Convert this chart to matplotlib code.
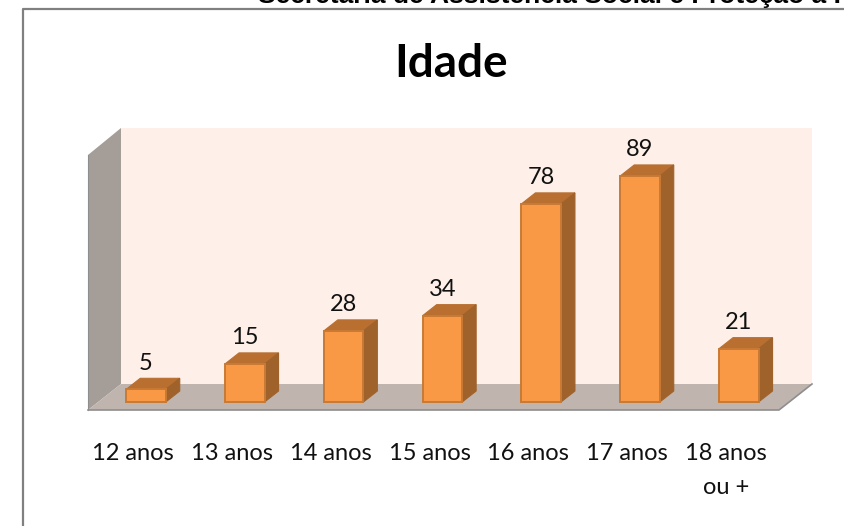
import matplotlib
matplotlib.use("Agg")
import matplotlib.pyplot as plt
from matplotlib.patches import Polygon, Rectangle

categorias = ["12 anos", "13 anos", "14 anos", "15 anos", "16 anos", "17 anos", "18 anos\nou +"]
valores = [5, 15, 28, 34, 78, 89, 21]

titulo = "Idade"
cabecalho = "Secretaria de Assistência Social e Proteção à I"

plt.rcParams["font.family"] = ["Lato", "DejaVu Sans"]

# escala: 98.8 px por categoria, 2.54 px por unidade, origem em (146, 402)
PX_X = 98.8
PX_Y = 2.54
X0 = 146
Y0 = 402

fig = plt.figure(figsize=(8.45, 5.26), dpi=100)
ax = fig.add_axes([0, 0, 1, 1])
ax.set_xlim(-X0 / PX_X, (845 - X0) / PX_X)
ax.set_ylim((Y0 - 526) / PX_Y, Y0 / PX_Y)
ax.axis("off")

larg = 39.5 / PX_X
dx = 14 / PX_X
dy = 11 / PX_Y


def px(x, y):
    return ((x - X0) / PX_X, (Y0 - y) / PX_Y)


# moldura
ax.plot(*zip(px(22.5, 526), px(22.5, 8.5), px(845, 8.5)), color="#808080", lw=1.6, zorder=1)

# paredes e piso
ax.add_patch(Polygon([px(121, 128), px(812, 128), px(812, 384), px(121, 384)], fc="#FEF0E8", ec="none", zorder=1))
ax.add_patch(Polygon([px(88, 155), px(121, 128), px(121, 384), px(88, 410)], fc="#A59D97", ec="none", zorder=2))
ax.add_patch(Polygon([px(88, 410), px(121, 384), px(812, 384), px(779, 410)], fc="#BFB4AE", ec="none", zorder=2))
ax.plot(*zip(px(88, 410), px(779, 410), px(812, 384)), color="#8E8E8E", lw=1.2, zorder=3)
ax.plot(*zip(px(88, 410), px(88, 155)), color="#8E8E8E", lw=0.8, zorder=3)

# barras
for i, v in enumerate(valores):
    x1 = i - larg / 2
    x2 = i + larg / 2
    ax.add_patch(Polygon([(x1, v), (x1 + dx, v + dy), (x2 + dx, v + dy), (x2, v)],
                         fc="#B96F30", ec="#B96F30", lw=0.8, zorder=4))
    ax.add_patch(Polygon([(x2, 0), (x2 + dx, dy), (x2 + dx, v + dy), (x2, v)],
                         fc="#A0622B", ec="#A0622B", lw=0.8, zorder=4))
    ax.add_patch(Rectangle((x1, 0), larg, v, fc="#F99845", ec="#C87A35", lw=1.4, zorder=5))
    ax.text(i, v + 6.2, str(v), ha="center", va="bottom", fontsize=17, color="#111111", zorder=6)

# rótulos do eixo
for i, c in enumerate(categorias):
    ax.text(i - 0.13, px(0, 443)[1], c, ha="center", va="top", fontsize=17, color="#111111",
            linespacing=1.75, zorder=6)

ax.text(*px(451, 77), titulo, ha="center", va="baseline", fontsize=33, fontweight="bold", color="black")
ax.text(*px(258, 3), cabecalho, ha="left", va="baseline", fontsize=19, fontweight="bold",
        family=["Liberation Sans"], color="black", clip_on=True)

fig.savefig("out.png", dpi=100)
